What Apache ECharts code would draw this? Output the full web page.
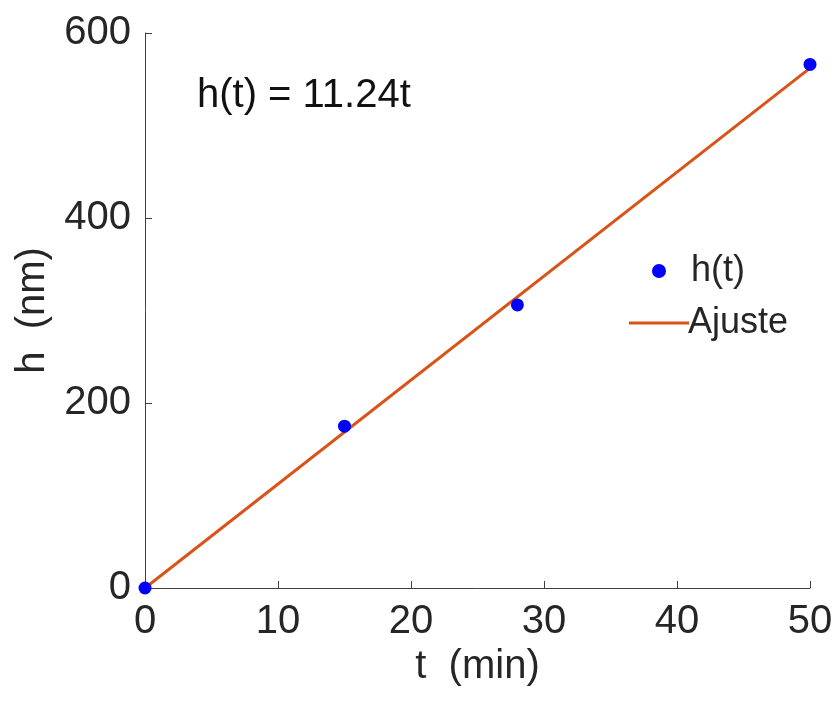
<!DOCTYPE html>
<html>
<head>
<meta charset="utf-8">
<script src="https://cdn.jsdelivr.net/npm/echarts@6/dist/echarts.min.js"></script>
<style>
  html, body { margin: 0; padding: 0; background: #fff; }
  #chart { width: 836px; height: 708px; }
</style>
</head>
<body>
<div id="chart"></div>
<script>
// measured points
const tMin = [0, 15, 28, 50]
const hNm = [0, 175, 306, 566]

// fitted line h(t) = 11.24t, endpoints
const fitT = [0, 50]
const fitH = [0, 562]

const xTicks = [0, 10, 20, 30, 40, 50]
const yTicks = [0, 200, 400, 600]

const font = '"Liberation Sans", Arial, Helvetica, sans-serif'
const ink = '#262626'

const chart = echarts.init(document.getElementById('chart'))

chart.setOption({
  animation: false,
  textStyle: { fontFamily: font },
  grid: { left: 145, right: 26, top: 33, bottom: 120 },
  xAxis: {
    type: 'value',
    min: xTicks[0],
    max: xTicks[xTicks.length - 1],
    interval: 10,
    name: 't  (min)',
    nameLocation: 'middle',
    nameGap: 50,
    nameTextStyle: { fontSize: 40, color: ink, fontFamily: font },
    axisLine: { lineStyle: { color: '#404040', width: 1 } },
    axisTick: { inside: true, length: 7, lineStyle: { color: '#404040' } },
    axisLabel: { fontSize: 40, color: ink, margin: 14, fontFamily: font },
    splitLine: { show: false }
  },
  yAxis: {
    type: 'value',
    min: yTicks[0],
    max: yTicks[yTicks.length - 1],
    interval: 200,
    name: 'h  (nm)',
    nameLocation: 'middle',
    nameGap: 85,
    nameTextStyle: { fontSize: 40, color: ink, fontFamily: font },
    axisLine: { show: true, lineStyle: { color: '#404040', width: 1 } },
    axisTick: { show: true, inside: true, length: 7, lineStyle: { color: '#404040' } },
    axisLabel: { fontSize: 40, color: ink, margin: 14, fontFamily: font },
    splitLine: { show: false }
  },
  legend: [
    {
      data: [{ name: 'h(t)', icon: 'circle' }],
      left: 647,
      top: 248,
      itemWidth: 14,
      itemHeight: 14,
      textStyle: { fontSize: 36, color: ink, fontFamily: font, padding: [0, 0, 0, 20] }
    },
    {
      data: [{ name: 'Ajuste', icon: 'rect' }],
      left: 624,
      top: 300,
      itemWidth: 60,
      itemHeight: 3,
      textStyle: { fontSize: 36, color: ink, fontFamily: font, padding: [0, 0, 0, -6] }
    }
  ],
  graphic: [
    {
      type: 'text',
      left: 197,
      top: 76,
      style: { text: 'h(t) = 11.24t', font: '40px ' + font, fill: '#111' }
    }
  ],
  series: [
    {
      name: 'Ajuste',
      type: 'line',
      data: fitT.map((t, i) => [t, fitH[i]]),
      showSymbol: false,
      symbol: 'none',
      lineStyle: { color: '#D95319', width: 3 },
      itemStyle: { color: '#D95319' },
      z: 2
    },
    {
      name: 'h(t)',
      type: 'scatter',
      data: tMin.map((t, i) => [t, hNm[i]]),
      symbol: 'circle',
      symbolSize: 13,
      itemStyle: { color: '#0000FF', opacity: 1 },
      z: 3
    }
  ]
})
</script>
</body>
</html>
